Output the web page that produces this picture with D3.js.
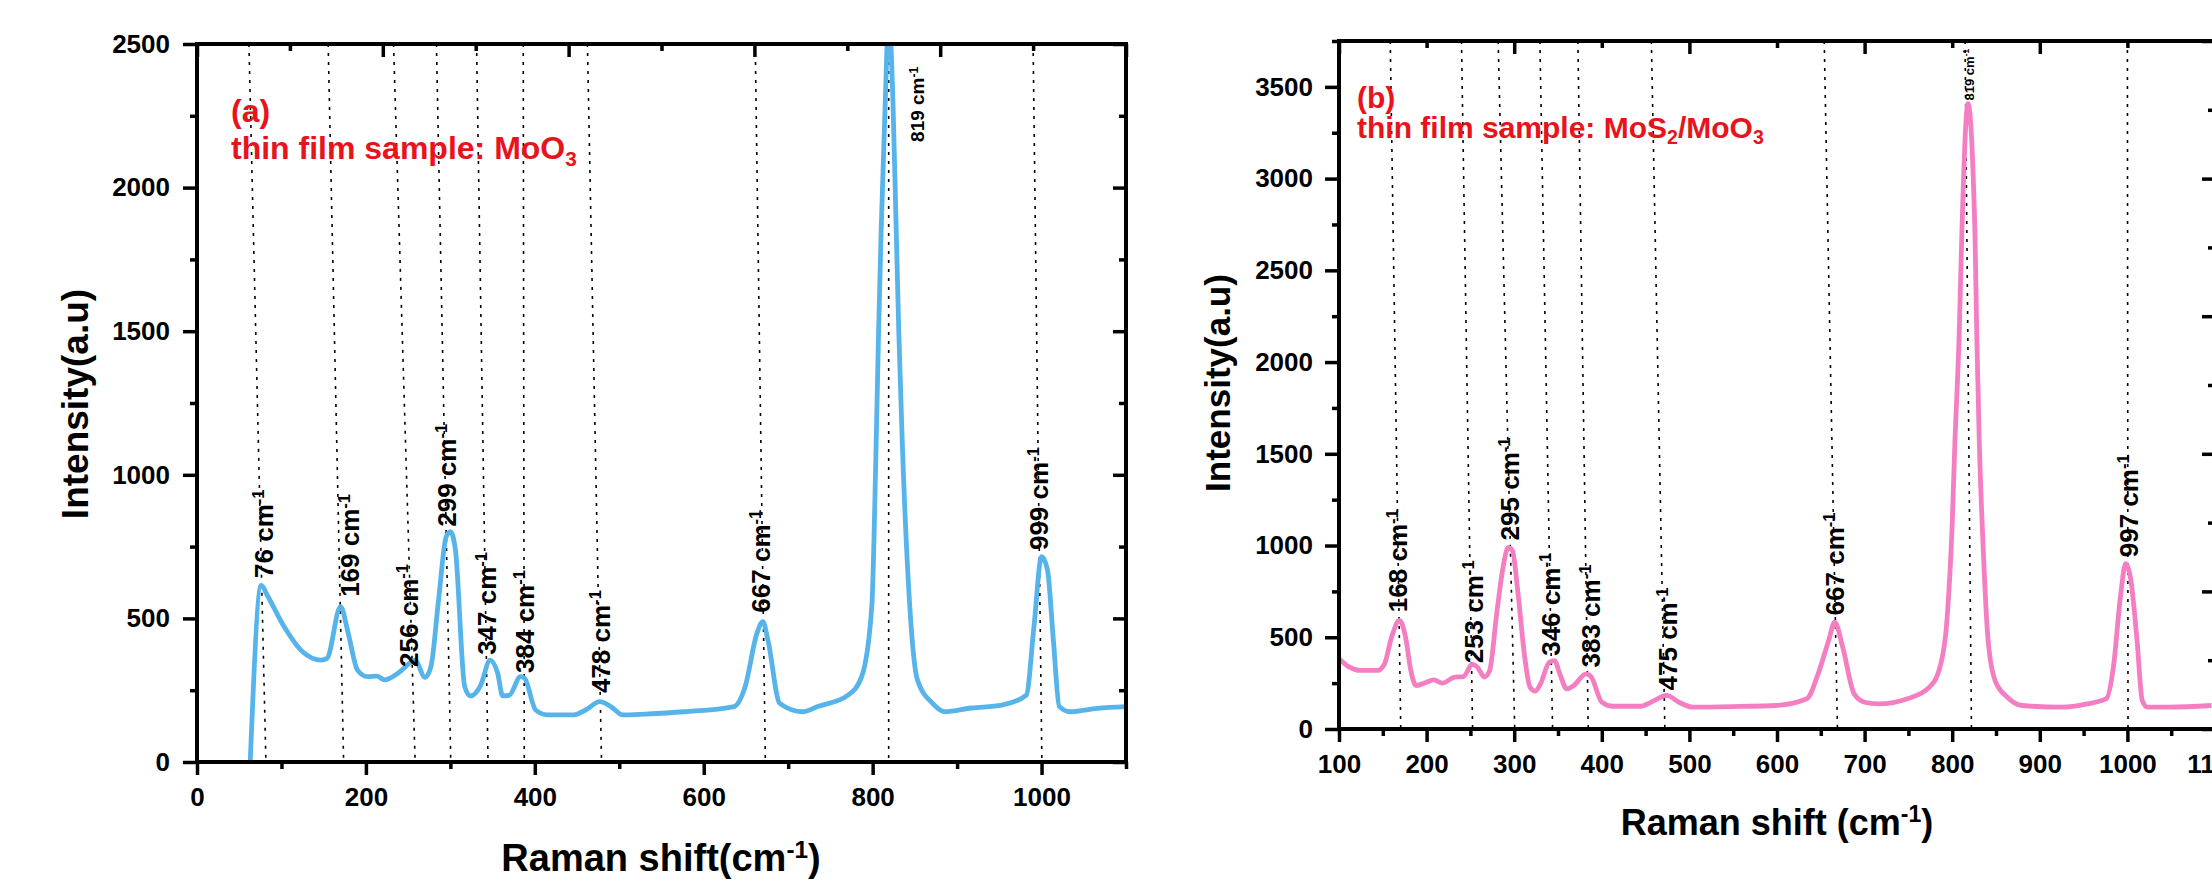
<!DOCTYPE html>
<html>
<head>
<meta charset="utf-8">
<script src="https://cdn.jsdelivr.net/npm/d3@7"></script>
<style>
  body { margin: 0; background: #fff; }
  text { font-family: "Liberation Sans", Arial, sans-serif; font-weight: bold; }
</style>
</head>
<body>
<svg id="chart" width="2212" height="890"></svg>
<script>
// ---- panel (a) : MoO3 ----
const shiftA = [63,76,84,102,125,147,154,170,179,190,202,213,222,238,254,258,270,277,286,295,300,306,317,324,336,347,356,362,370,383,388,401,415,446,460,477,490,504,531,577,636,649,663,670,676,690,717,735,771,787,799,804,807,810,815,819,824,828,831,835,844,853,871,885,917,953,982,991,1000,1007,1014,1021,1034,1066,1100];
const intensA = [0,615,576,477,384,355,361,541,449,320,297,299,286,309,349,355,295,332,564,784,802,738,262,230,268,355,309,230,233,297,291,181,164,164,181,210,193,164,167,175,193,262,448,489,425,204,175,193,233,297,541,1086,1494,1842,2305,2600,2305,1842,1494,1121,541,286,204,175,188,198,233,471,715,669,425,193,175,187,193];
const peaksA = ["76","169","256","299","347","384","478","667","819","999"];
const labelXA = [78.9,181.2,250.0,295.6,343.2,388.4,477.8,667.8,853.0,996.7];
const labelYA = [641,575,331,819,373,310,240,520,2159,738];
const guideTopA = [61.5,155.3,232.7,283.5,331,386.3,462.3,661,819,990];
const guideBotA = [81.6,173.6,258.3,300.5,344.6,387.5,479,673,819,1000.4];
const xTicksA = [0,200,400,600,800,1000];
const xMinorA = [100,300,500,700,900,1100];
const yTicksA = [0,500,1000,1500,2000,2500];
const yMinorA = [250,750,1250,1750,2250];

// ---- panel (b) : MoS2/MoO3 ----
const shiftB = [100,112,124,144,152,160,169,176,182,188,200,208,218,232,242,252,258,266,272,280,288,293,298,304,312,318,324,330,340,346,352,360,368,382,388,400,412,444,460,474,488,504,557,598,634,647,659,666,675,688,700,716,749,774,786,794,800,803,808,811,818,826,828,831,835,841,849,863,880,925,954,976,984,992,998,1004,1011,1017,1023,1048,1096];
const intensB = [383,337,319,319,355,500,592,500,319,237,255,268,250,283,286,352,337,283,319,628,901,988,973,755,392,228,206,246,364,373,301,219,237,301,283,146,124,124,155,183,146,119,123,128,165,301,483,582,446,192,146,137,165,228,337,592,1119,1550,2155,2700,3409,2700,2155,1550,1028,483,264,173,128,119,137,165,337,719,901,810,483,155,119,119,128];
const peaksB = ["168","253","295","346","383","475","667","819","997"];
const labelXB = [167.3,253.3,294.5,341.7,387.7,475.2,665.7,819.2,1001.3];
const labelYB = [637,358,1028,399,335,210,619,3426,936];
const guideTopB = [158.5,239.8,281.7,329.3,372.7,456.6,653.9,814.7,1000];
const guideBotB = [170.5,252.5,300.6,343.8,384.5,472,669,822,1000.7];
const xTicksB = [100,200,300,400,500,600,700,800,900,1000,1100];
const xMinorB = [150,250,350,450,550,650,750,850,950,1050];
const yTicksB = [0,500,1000,1500,2000,2500,3000,3500];
const yMinorB = [250,750,1250,1750,2250,2750,3250,3750];

const svg = d3.select("#chart");
const FONT = '"Liberation Sans", Arial, sans-serif';

function styleAxis(sel, size) {
  sel.attr("font-family", FONT).attr("font-weight", "bold").attr("font-size", size);
  sel.select(".domain").remove();
  sel.selectAll(".tick line").attr("stroke", "#000").attr("stroke-width", 3.5);
  sel.selectAll(".tick text").attr("fill", "#000");
}

function supText(sel, before, sup, after) {
  sel.append("tspan").text(before);
  sel.append("tspan").attr("font-size", "0.64em").attr("dy", "-0.55em").text(sup);
  if (after) sel.append("tspan").attr("dy", "0.35em").text(after);
}

function drawPanel(p) {
  const x = d3.scaleLinear().domain(p.xDomain).range(p.xRange);
  const y = d3.scaleLinear().domain(p.yDomain).range(p.yRange);
  const [x0, x1] = p.xRange, [y0, y1] = p.yRange;
  const g = svg.append("g");

  svg.append("clipPath").attr("id", p.id + "clip")
    .append("rect").attr("x", x0).attr("y", y1).attr("width", x1 - x0).attr("height", y0 - y1);

  // dotted guide lines
  g.append("g").selectAll("line").data(d3.zip(p.guideTop, p.guideBot)).join("line")
    .attr("x1", d => x(d[0])).attr("y1", y1)
    .attr("x2", d => x(d[1])).attr("y2", y0)
    .attr("stroke", "#000").attr("stroke-width", 1.6).attr("stroke-dasharray", "3,6");

  // spectrum
  g.append("path").datum(d3.zip(p.shift, p.intens))
    .attr("clip-path", `url(#${p.id}clip)`)
    .attr("d", d3.line().x(d => x(d[0])).y(d => y(d[1])).curve(d3.curveMonotoneX))
    .attr("fill", "none").attr("stroke", p.color).attr("stroke-width", 4.8)
    .attr("stroke-linejoin", "round");

  // bottom axis
  const ab = g.append("g").attr("transform", `translate(0,${y0})`)
    .call(d3.axisBottom(x).tickValues(p.xTicks).tickSize(13).tickPadding(13).tickFormat(d3.format("d")));
  styleAxis(ab, p.tickFont);
  const abm = g.append("g").attr("transform", `translate(0,${y0})`)
    .call(d3.axisBottom(x).tickValues(p.xMinor).tickSize(7).tickFormat(""));
  styleAxis(abm, p.tickFont);

  // left axis
  const al = g.append("g").attr("transform", `translate(${x0},0)`)
    .call(d3.axisLeft(y).tickValues(p.yTicks).tickSize(14).tickPadding(p.yPad).tickFormat(d3.format("d")));
  styleAxis(al, p.tickFont);
  const alm = g.append("g").attr("transform", `translate(${x0},0)`)
    .call(d3.axisLeft(y).tickValues(p.yMinor).tickSize(7).tickFormat(""));
  styleAxis(alm, p.tickFont);

  // linked top / right axes, ticks inward, no labels
  const lx = d3.scaleLinear().domain([0, 5]).range([x0, x1]);
  const ly = d3.scaleLinear().domain([0, 5]).range([y0, y1]);
  [[d3.range(0, 5.01, 1), -13], [d3.range(0.5, 5, 1), -7]].forEach(([vals, len]) => {
    styleAxis(g.append("g").attr("transform", `translate(0,${y1})`)
      .call(d3.axisTop(lx).tickValues(vals).tickSize(len).tickFormat("")), p.tickFont);
    styleAxis(g.append("g").attr("transform", `translate(${x1},0)`)
      .call(d3.axisRight(ly).tickValues(vals).tickSize(len).tickFormat("")), p.tickFont);
  });

  // frame
  g.append("rect").attr("x", x0).attr("y", y1).attr("width", x1 - x0).attr("height", y0 - y1)
    .attr("fill", "none").attr("stroke", "#000").attr("stroke-width", 4);

  // peak labels
  g.append("g").selectAll("text").data(d3.zip(p.peaks, p.labelX, p.labelY)).join("text")
    .attr("transform", d => `translate(${x(d[1])},${y(d[2])}) rotate(-90)`)
    .attr("dy", "0.36em")
    .attr("font-size", d => d[0] === "819" ? p.smallLabel : 26)
    .attr("fill", "#000")
    .each(function (d) { supText(d3.select(this), d[0] + " cm", "-1"); });

  // red annotations
  g.append("text").attr("x", p.noteX).attr("y", p.noteY1).attr("fill", "#e8131b")
    .attr("font-size", p.noteFont).text(p.tag);
  const note = g.append("text").attr("x", p.noteX).attr("y", p.noteY2).attr("fill", "#e8131b")
    .attr("font-size", p.noteFont);
  p.note.forEach(([t, sub]) => {
    note.append("tspan").attr("font-size", sub ? "0.65em" : null)
      .attr("dy", sub ? "0.32em" : (note.selectAll("tspan").size() ? "-0.21em" : null)).text(t);
  });

  // axis titles
  const xt = g.append("text").attr("x", p.xTitleX).attr("y", p.xTitleY)
    .attr("text-anchor", "middle").attr("font-size", p.xTitleFont).attr("fill", "#000");
  supText(xt, p.xTitle, "-1", ")");
  g.append("text").attr("transform", `translate(${p.yTitleX},${p.yTitleY}) rotate(-90)`)
    .attr("text-anchor", "middle").attr("font-size", p.yTitleFont).attr("fill", "#000")
    .text("Intensity(a.u)");
}

drawPanel({
  id: "a", xDomain: [0, 1100], xRange: [197, 1126], yDomain: [0, 2500], yRange: [762, 44],
  shift: shiftA, intens: intensA, color: "#56b4ea",
  guideTop: guideTopA, guideBot: guideBotA,
  peaks: peaksA, labelX: labelXA, labelY: labelYA, smallLabel: 19,
  xTicks: xTicksA, xMinor: xMinorA, yTicks: yTicksA, yMinor: yMinorA, tickFont: 26, yPad: 13,
  tag: "(a)", note: [["thin film sample: MoO", false], ["3", true]],
  noteX: 231, noteY1: 122, noteY2: 166, noteFont: 32,
  xTitle: "Raman shift(cm", xTitleX: 661, xTitleY: 871, xTitleFont: 38,
  yTitleX: 88, yTitleY: 404, yTitleFont: 37
});

drawPanel({
  id: "b", xDomain: [100, 1100], xRange: [1339, 2215], yDomain: [0, 3750], yRange: [729, 41],
  shift: shiftB, intens: intensB, color: "#f47ec2",
  guideTop: guideTopB, guideBot: guideBotB,
  peaks: peaksB, labelX: labelXB, labelY: labelYB, smallLabel: 13,
  xTicks: xTicksB, xMinor: xMinorB, yTicks: yTicksB, yMinor: yMinorB, tickFont: 26, yPad: 12,
  tag: "(b)", note: [["thin film sample: MoS", false], ["2", true], ["/MoO", false], ["3", true]],
  noteX: 1357, noteY1: 108, noteY2: 144, noteFont: 30,
  xTitle: "Raman shift (cm", xTitleX: 1777, xTitleY: 835, xTitleFont: 36,
  yTitleX: 1230, yTitleY: 383, yTitleFont: 35
});
</script>
</body>
</html>
